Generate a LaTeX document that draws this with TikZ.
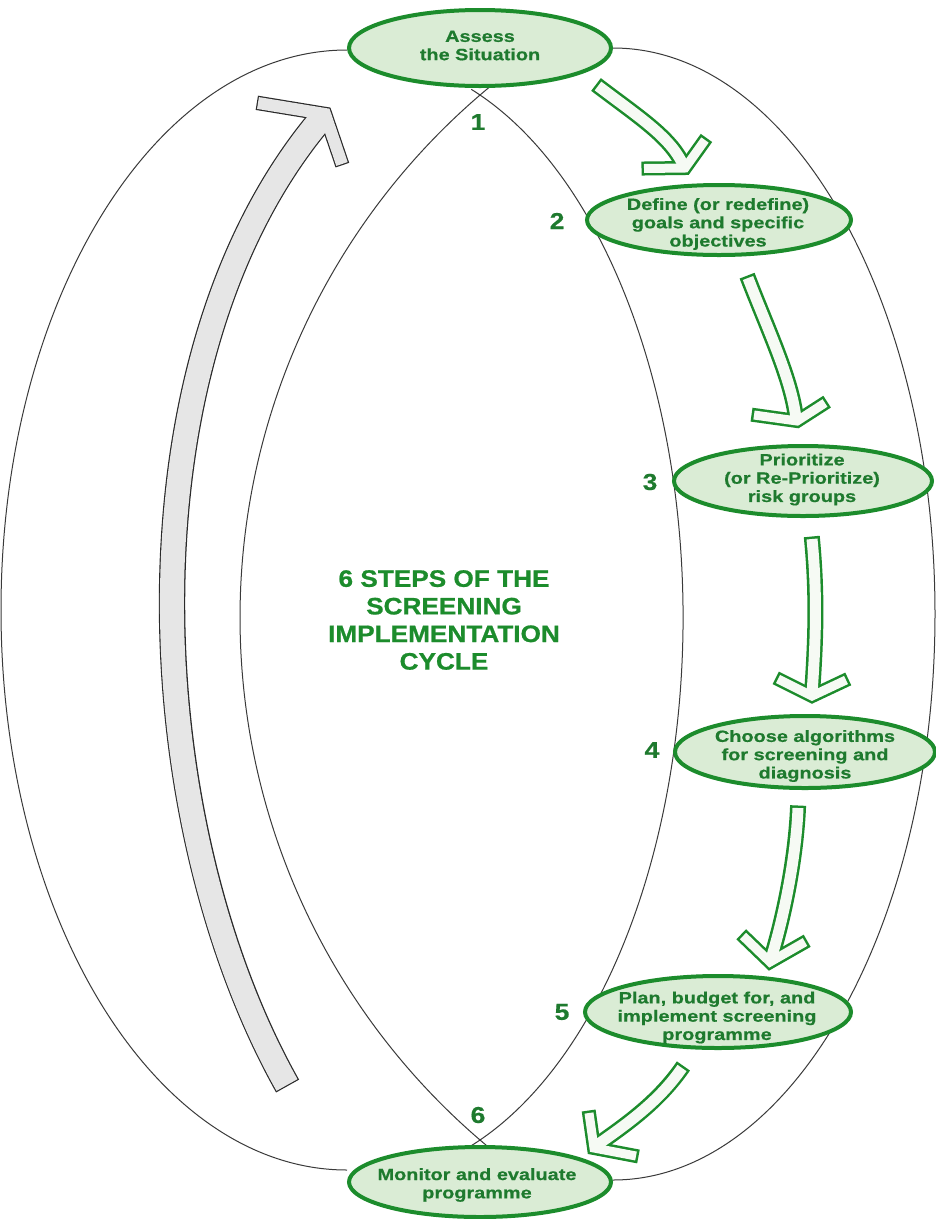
\documentclass[tikz,border=0pt]{standalone}
\usepackage{fontspec}
\setmainfont{Liberation Sans}
\newfontfamily\stepfont{Liberation Sans}[FakeStretch=1.22,FakeBold=0.6]
\newfontfamily\titlefont{Liberation Sans}[FakeStretch=1.1,FakeBold=0.8]
\newfontfamily\numfont{Liberation Sans}[FakeStretch=1.15,FakeBold=0.6]
\usetikzlibrary{shapes.geometric}
\definecolor{stepgreen}{HTML}{1C8C2C}
\definecolor{stepfill}{HTML}{DAECD5}
\definecolor{textgreen}{HTML}{1E7A2E}
\definecolor{linegray}{HTML}{3A3A3A}
\definecolor{arrowfill}{HTML}{F6FAF4}
\definecolor{greyfill}{HTML}{E6E6E6}
\definecolor{greyedge}{HTML}{2A2A2A}
\tikzset{
  thinline/.style={draw=linegray, line width=1pt},
  stepell/.style={ellipse, draw=stepgreen, line width=4pt, fill=stepfill, inner sep=0pt},
  steptext/.style={text=textgreen, align=center, inner sep=0pt,
    font=\stepfont\bfseries\fontsize{16.3}{18.3}\selectfont},
  numlabel/.style={text=textgreen, inner sep=0pt, font=\numfont\bfseries\fontsize{23}{23}\selectfont},
  titletext/.style={text=stepgreen, align=center, inner sep=0pt,
    font=\titlefont\bfseries\fontsize{23.8}{27.6}\selectfont},
  gshaftout/.style={draw=stepgreen, line width=16pt, line cap=butt, shorten <=-2.5pt},
  gshaftin/.style={draw=arrowfill, line width=11pt, line cap=butt},
  gbarbout/.style={draw=stepgreen, line width=14pt, line cap=butt, line join=miter, shorten <=-2.5pt, shorten >=-2.5pt},
  gbarbin/.style={draw=arrowfill, line width=9pt, line cap=butt, line join=miter},
  kshaftout/.style={draw=greyedge, line width=26.4pt, line cap=butt, shorten <=-1.2pt},
  kshaftin/.style={draw=greyfill, line width=24pt, line cap=butt},
  kbarbout/.style={draw=greyedge, line width=14.4pt, line cap=butt, line join=miter, shorten <=-1.2pt, shorten >=-1.2pt},
  kbarbin/.style={draw=greyfill, line width=12pt, line cap=butt, line join=miter}
}
\begin{document}
\begin{tikzpicture}[x=1pt,y=-1pt]
\useasboundingbox (0,0) rectangle (936,1219);
\fill[white] (0,0) rectangle (936,1219);

% outer arcs
\draw[thinline] (347,50) arc[start angle=-90, end angle=-270, x radius=346, y radius=560];
\draw[thinline] (613,48) arc[start angle=-90, end angle=90, x radius=322, y radius=566];
% inner lens arcs
\draw[thinline] (928.8,617.5) ++(-129.3:688.8) arc[start angle=-129.3, end angle=-230.7, radius=688.8];
\draw[thinline] (366,617.5) ++(-70.6:317 and 560) arc[start angle=-70.6, end angle=70.8, x radius=317, y radius=560];

% big grey arrow
\coordinate (gs0) at (287,1085);
\coordinate (gs1) at (321,119);
\coordinate (gbl) at (258,103);
\coordinate (gap) at (325,114);
\coordinate (gbr) at (342,164);
\draw[kshaftout] (gs0) .. controls (138,820) and (118,360) .. (gs1);
\draw[kbarbout] (gbl) -- (gap) -- (gbr);
\draw[kshaftin] (gs0) .. controls (138,820) and (118,360) .. (gs1);
\draw[kbarbin] (gbl) -- (gap) -- (gbr);

% green arrows: coordinates
\coordinate (a1s) at (598,86);   \coordinate (a1e) at (684,167);
\coordinate (a1l) at (644,168.5); \coordinate (a1p) at (685,168); \coordinate (a1r) at (705,140);
\coordinate (a2s) at (748,278);  \coordinate (a2e) at (796,419);
\coordinate (a2l) at (754,415);  \coordinate (a2p) at (797,421); \coordinate (a2r) at (825,403);
\coordinate (a3s) at (812,539);  \coordinate (a3e) at (812,694);
\coordinate (a3l) at (778,679);  \coordinate (a3p) at (812,696); \coordinate (a3r) at (846,680);
\coordinate (a4s) at (798,808);  \coordinate (a4e) at (771,959);
\coordinate (a4l) at (743,936);  \coordinate (a4p) at (770,962); \coordinate (a4r) at (805,942);
\coordinate (a5s) at (682,1068); \coordinate (a5e) at (597,1145);
\coordinate (a5l) at (589,1113); \coordinate (a5p) at (594,1148); \coordinate (a5r) at (636,1156);

% outlines
\draw[gshaftout] (a1s) .. controls (640,118) and (672,138) .. (a1e);
\draw[gbarbout] (a1l) -- (a1p) -- (a1r);
\draw[gshaftout] (a2s) .. controls (768,330) and (792,380) .. (a2e);
\draw[gbarbout] (a2l) -- (a2p) -- (a2r);
\draw[gshaftout] (a3s) .. controls (818,600) and (815,650) .. (a3e);
\draw[gbarbout] (a3l) -- (a3p) -- (a3r);
\draw[gshaftout] (a4s) .. controls (796,860) and (783,920) .. (a4e);
\draw[gbarbout] (a4l) -- (a4p) -- (a4r);
\draw[gshaftout] (a5s) .. controls (660,1100) and (630,1122) .. (a5e);
\draw[gbarbout] (a5l) -- (a5p) -- (a5r);
% fills
\draw[gshaftin] (a1s) .. controls (640,118) and (672,138) .. (a1e);
\draw[gbarbin] (a1l) -- (a1p) -- (a1r);
\draw[gshaftin] (a2s) .. controls (768,330) and (792,380) .. (a2e);
\draw[gbarbin] (a2l) -- (a2p) -- (a2r);
\draw[gshaftin] (a3s) .. controls (818,600) and (815,650) .. (a3e);
\draw[gbarbin] (a3l) -- (a3p) -- (a3r);
\draw[gshaftin] (a4s) .. controls (796,860) and (783,920) .. (a4e);
\draw[gbarbin] (a4l) -- (a4p) -- (a4r);
\draw[gshaftin] (a5s) .. controls (660,1100) and (630,1122) .. (a5e);
\draw[gbarbin] (a5l) -- (a5p) -- (a5r);

% step ellipses
\node[stepell, minimum width=262pt, minimum height=76pt] (e1) at (480,48) {};
\node[stepell, minimum width=264pt, minimum height=70pt] (e2) at (719,220) {};
\node[stepell, minimum width=258pt, minimum height=70pt] (e3) at (803,481) {};
\node[stepell, minimum width=260pt, minimum height=72pt] (e4) at (805,752) {};
\node[stepell, minimum width=266pt, minimum height=72pt] (e5) at (718,1012) {};
\node[stepell, minimum width=262pt, minimum height=70pt] (e6) at (480,1182) {};

% step texts
\node[steptext] (t1) at (480,45.5) {Assess\\the Situation};
\node[steptext] (t2) at (718,224) {Define (or redefine)\\goals and specific\\objectives};
\node[steptext] (t3) at (802,479.5) {Prioritize\\(or Re-Prioritize)\\risk groups};
\node[steptext] (t4) at (805,756) {Choose algorithms\\for screening and\\diagnosis};
\node[steptext] (t5) at (717,1017.5) {Plan, budget for, and\\implement screening\\programme};
\node[steptext] (t6) at (477,1185) {Monitor and evaluate\\programme};

% numbers
\node[numlabel] (n1) at (478,122) {1};
\node[numlabel] (n2) at (557,221) {2};
\node[numlabel] (n3) at (650,482) {3};
\node[numlabel] (n4) at (652,750) {4};
\node[numlabel] (n5) at (562,1012) {5};
\node[numlabel] (n6) at (478,1115) {6};

% title
\node[titletext] (title) at (444,620) {6 STEPS OF THE\\SCREENING\\IMPLEMENTATION\\CYCLE};
\end{tikzpicture}
\end{document}
